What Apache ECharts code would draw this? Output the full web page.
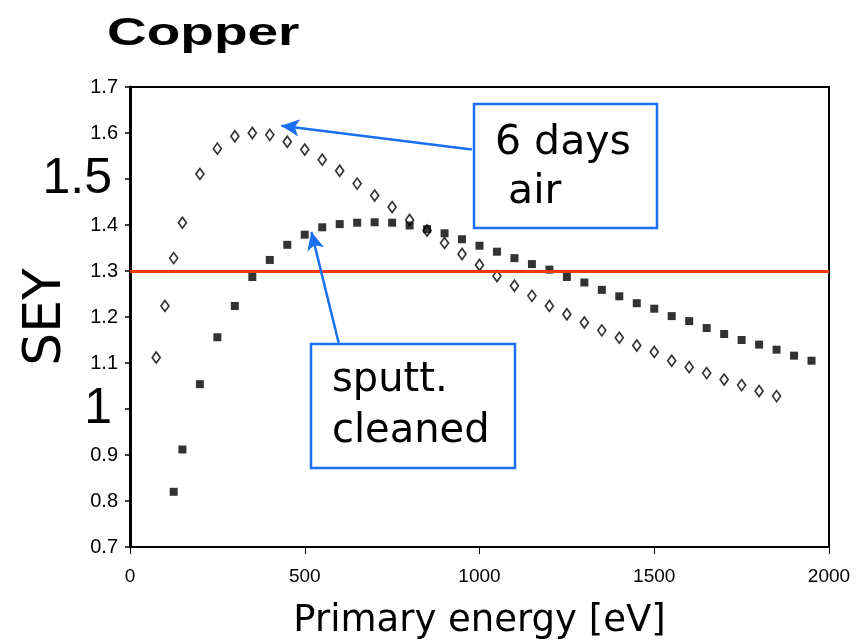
<!DOCTYPE html>
<html><head><meta charset="utf-8">
<script src="https://cdn.jsdelivr.net/npm/echarts@6/dist/echarts.min.js"></script>
<style>html,body{margin:0;padding:0;background:#fff}#c{width:860px;height:642px}</style>
</head><body><div id="c"></div>
<script>
// 6 days air (open diamonds)
const airEnergy = [75,100,125,150,200,250,300,350,400,450,500,550,600,650,700,750,800,850,900,950,1000,1050,1100,1150,1200,1250,1300,1350,1400,1450,1500,1550,1600,1650,1700,1750,1800,1850];
const airSEY = [1.112,1.224,1.328,1.405,1.511,1.566,1.593,1.600,1.596,1.581,1.564,1.542,1.518,1.490,1.464,1.439,1.411,1.388,1.361,1.337,1.313,1.289,1.268,1.246,1.224,1.206,1.188,1.171,1.155,1.138,1.124,1.105,1.091,1.078,1.064,1.052,1.039,1.028];
// sputter cleaned (filled squares)
const cleanEnergy = [125,150,200,250,300,350,400,450,500,550,600,650,700,750,800,850,900,950,1000,1050,1100,1150,1200,1250,1300,1350,1400,1450,1500,1550,1600,1650,1700,1750,1800,1850,1900,1950];
const cleanSEY = [0.820,0.912,1.054,1.156,1.224,1.287,1.324,1.357,1.379,1.395,1.402,1.405,1.406,1.405,1.399,1.391,1.382,1.369,1.355,1.342,1.328,1.315,1.303,1.287,1.275,1.259,1.245,1.230,1.218,1.202,1.191,1.176,1.163,1.150,1.140,1.129,1.116,1.105];
const xTicks = [0,500,1000,1500,2000];
const yTicks = [0.7,0.8,0.9,1.0,1.1,1.2,1.3,1.4,1.5,1.6,1.7];
const bigYLabels = ['1.5','1'];
const referenceSEY = 1.3;
const arrowAir = [[978,1.564],[433,1.616]];
const arrowClean = [[597,1.144],[519,1.385]];
const titleText = 'Copper';
const airLabel = ['6 days', ' air'];
const cleanLabel = ['sputt.', 'cleaned'];

const blue = '#1a6ff2';
const chart = echarts.init(document.getElementById('c'), null, {renderer:'canvas'});
const pair = (xs, ys) => xs.map((x,i)=>[x, ys[i]]);
const arrowLine = a => [{coord:a[0], symbol:'none'},{coord:a[1], symbol:'arrow'}];

chart.setOption({
  animation:false,
  backgroundColor:'#fff',
  grid:{left:130,right:31,top:87,bottom:95,outerBoundsMode:'none',containLabel:false,show:true,borderColor:'#000',borderWidth:2,backgroundColor:'transparent'},
  xAxis:{type:'value',min:xTicks[0],max:xTicks[xTicks.length-1],interval:500,
    name:'Primary energy [eV]',nameLocation:'middle',nameGap:56,nameMoveOverlap:false,
    nameTextStyle:{fontFamily:'DejaVu Sans',fontSize:37,color:'#000'},
    axisLine:{show:true,onZero:false,lineStyle:{color:'#000',width:2}},
    axisTick:{show:true,length:7,lineStyle:{color:'#000',width:1}},
    axisLabel:{fontFamily:'Liberation Sans',fontSize:19,color:'#000',margin:20,formatter:v=>String(v)},
    splitLine:{show:false}},
  yAxis:{type:'value',min:yTicks[0],max:yTicks[yTicks.length-1],interval:0.1,
    name:'SEY',nameLocation:'middle',nameGap:58,nameMoveOverlap:false,
    nameTextStyle:{fontFamily:'DejaVu Sans',fontSize:52,color:'#000'},
    axisLine:{show:true,onZero:false,lineStyle:{color:'#000',width:3}},
    axisTick:{show:true,length:5,lineStyle:{color:'#000',width:1.5}},
    axisLabel:{fontFamily:'Liberation Sans',fontSize:20,color:'#000',margin:12,
      formatter:v=>{const s=String(+(+v).toFixed(2)); return bigYLabels.includes(s)?'{big|'+s+'}':s;},
      rich:{big:{fontFamily:'Liberation Sans',fontSize:50,color:'#000',padding:[0,6,0,0]}}},
    splitLine:{show:false}},
  series:[
    {type:'scatter',name:'6 days air',data:pair(airEnergy,airSEY),symbol:'diamond',symbolSize:[8,11],
     itemStyle:{color:'#fff',borderColor:'#000',borderWidth:1.7},z:3,
     markLine:{silent:true,symbolSize:[13,18],label:{show:false},lineStyle:{color:blue,width:2.5,type:'solid'},
       data:[arrowLine(arrowAir)]}},
    {type:'scatter',name:'sputt. cleaned',data:pair(cleanEnergy,cleanSEY),symbol:'rect',symbolSize:[8,8],
     itemStyle:{color:'#000'},z:4,
     markLine:{silent:true,symbol:['none','none'],label:{show:false},lineStyle:{color:'#f53a0a',width:3,type:'solid'},
       data:[{yAxis:referenceSEY}]}},
    {type:'scatter',data:[],
     markLine:{silent:true,symbolSize:[13,18],label:{show:false},lineStyle:{color:blue,width:2.5,type:'solid'},
       data:[arrowLine(arrowClean)]}}
  ],
  graphic:[
    {type:'text',x:107,y:34,scaleX:1.41,style:{text:titleText,fontFamily:'Liberation Sans',fontWeight:'bold',fontSize:39,fill:'#000',align:'left',verticalAlign:'middle'}},
    {type:'rect',shape:{x:474,y:104,width:183,height:124},style:{fill:'#fff',stroke:blue,lineWidth:2.5},z:100},
    {type:'text',x:495,y:143,style:{text:airLabel[0],fontFamily:'DejaVu Sans',fontSize:41,fill:'#000',align:'left',verticalAlign:'middle'},z:101},
    {type:'text',x:495,y:192,style:{text:airLabel[1],fontFamily:'DejaVu Sans',fontSize:41,fill:'#000',align:'left',verticalAlign:'middle'},z:101},
    {type:'rect',shape:{x:311,y:344,width:204,height:124},style:{fill:'#fff',stroke:blue,lineWidth:2.5},z:100},
    {type:'text',x:332,y:381,style:{text:cleanLabel[0],fontFamily:'DejaVu Sans',fontSize:40,fill:'#000',align:'left',verticalAlign:'middle'},z:101},
    {type:'text',x:332,y:432,style:{text:cleanLabel[1],fontFamily:'DejaVu Sans',fontSize:40,fill:'#000',align:'left',verticalAlign:'middle'},z:101}
  ]
});
</script></body></html>
